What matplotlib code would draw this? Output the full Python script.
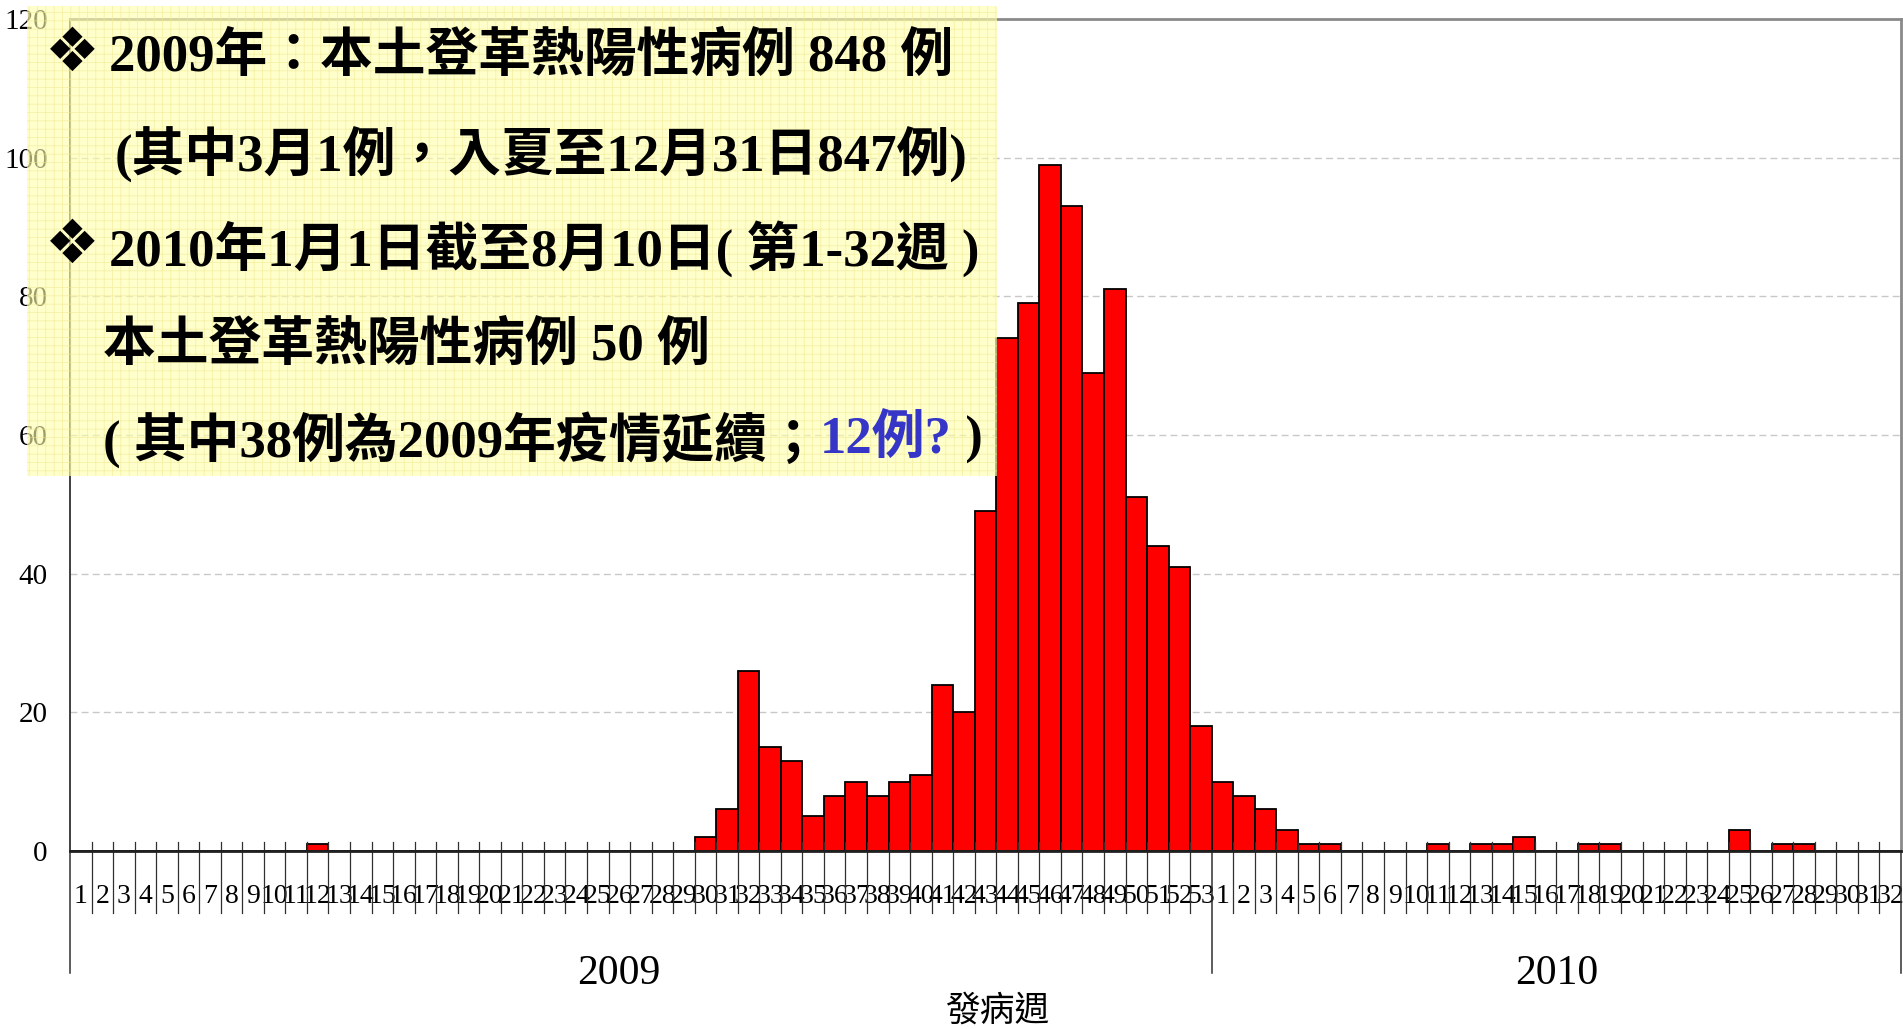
import matplotlib
matplotlib.use("Agg")
import matplotlib.pyplot as plt
from matplotlib.patches import Rectangle
from matplotlib.transforms import blended_transform_factory

# Weekly counts of locally acquired dengue cases by week of onset
weeks_2009 = [str(w) for w in range(1, 54)]
weeks_2010 = [str(w) for w in range(1, 33)]
cases_2009 = [0] * 11 + [1] + [0] * 17 + [
    2, 6, 26, 15, 13, 5, 8, 10, 8, 10, 11, 24, 20,
    49, 74, 79, 99, 93, 69, 81, 51, 44, 41, 18]
cases_2010 = [10, 8, 6, 3, 1, 1, 0, 0, 0, 0, 1, 0, 1, 1, 2, 0,
              0, 1, 1, 0, 0, 0, 0, 0, 3, 0, 1, 1, 0, 0, 0, 0]
year_labels = ["2009", "2010"]
y_ticks = [0, 20, 40, 60, 80, 100, 120]
x_title = "發病週"

bullet = "❖"
note_lines = [
    (True, "2009年：本土登革熱陽性病例 848 例"),
    (False, "(其中3月1例，入夏至12月31日847例)"),
    (True, "2010年1月1日截至8月10日( 第1-32週 )"),
    (False, "本土登革熱陽性病例 50 例"),
]
note_last = ["( 其中38例為2009年疫情延續；", "12例?", " )"]

W, H = 1903, 1029
fig = plt.figure(figsize=(W / 100, H / 100), dpi=100)
fig.patch.set_facecolor("white")
plt.rcParams["hatch.linewidth"] = 0.6

left_px, right_px, top_px, bottom_px = 70, 1901, 19, 851
ax = fig.add_axes([left_px / W, 1 - bottom_px / H,
                   (right_px - left_px) / W, (bottom_px - top_px) / H])

labels = weeks_2009 + weeks_2010
values = cases_2009 + cases_2010
xs = list(range(len(values)))
n09 = len(cases_2009)

ax.bar(xs, values, width=1.0, color="#FF0000", edgecolor="black",
       linewidth=1.3, zorder=3)

ax.set_xlim(-0.5, len(values) - 0.5)
ax.set_ylim(0, 120)
ax.set_yticks(y_ticks)
ax.set_yticklabels([str(v) for v in y_ticks], fontfamily="Liberation Serif",
                   fontsize=21)
ax.tick_params(axis="y", length=0, pad=16)
ax.set_xticks(xs)
ax.set_xticklabels(labels, fontfamily="Liberation Serif", fontsize=20)
ax.tick_params(axis="x", length=0, pad=24)

for v in y_ticks[1:-1]:
    ax.axhline(v, color="#C8C8C8", lw=1.0, ls=(0, (5, 3)), zorder=1)

for side in ("top", "right"):
    ax.spines[side].set_color("#8A8A8A")
    ax.spines[side].set_linewidth(2.0)
ax.spines["left"].set_color("#303030")
ax.spines["left"].set_linewidth(1.3)
ax.spines["bottom"].set_color("#202020")
ax.spines["bottom"].set_linewidth(2.0)
ax.spines["bottom"].set_zorder(4)

# category separators below the axis
trans = blended_transform_factory(ax.transData, ax.transAxes)
ax_h = bottom_px - top_px
for k in range(len(values) - 1):
    b = k + 0.5
    if b == n09 - 0.5:
        continue
    ax.plot([b, b], [9 / ax_h, -62 / ax_h], color="#303030", lw=0.9,
            transform=trans, clip_on=False, zorder=4)
for b in (-0.5, n09 - 0.5, len(values) - 0.5):
    ax.plot([b, b], [0, -122 / ax_h], color="#303030", lw=1.1,
            transform=trans, clip_on=False, zorder=4)

# year group labels
ax.text(25, -123 / ax_h, year_labels[0], transform=trans, ha="center",
        va="center", fontfamily="Liberation Serif", fontsize=30)
ax.text(n09 + (len(cases_2010) - 1) / 2, -123 / ax_h, year_labels[1],
        transform=trans, ha="center", va="center",
        fontfamily="Liberation Serif", fontsize=30)

fig.text(997 / W, 1 - 1011 / H, x_title, ha="center", va="center",
         fontfamily="Noto Sans CJK TC", fontsize=25)

# highlighted note box
bx0, by0, bx1, by1 = 27, 6, 997, 476
box = Rectangle((bx0 / W, 1 - by1 / H), (bx1 - bx0) / W, (by1 - by0) / H,
                transform=fig.transFigure, facecolor="#FFFFAC",
                edgecolor="#F0E890", linewidth=0, hatch="++", alpha=0.62,
                zorder=5)
fig.add_artist(box)

fam = ["Liberation Serif", "Noto Sans CJK TC", "DejaVu Sans"]
fs = 38
line_pos = [(109, 57), (115, 155), (109, 249), (103, 346), (103, 440)]
for (lx, ly), (has_bullet, txt) in zip(line_pos[:4], note_lines):
    if has_bullet:
        fig.text(72 / W, 1 - (ly - 3) / H, bullet, ha="center", va="center",
                 fontfamily="DejaVu Sans", fontsize=44, zorder=6)
    fig.text(lx / W, 1 - ly / H, txt, ha="left", va="center",
             fontfamily=fam, fontweight="bold", fontsize=fs, zorder=6)

renderer = fig.canvas.get_renderer()
lx, ly = line_pos[4]
cur_x = lx
for txt, col in zip(note_last, ["black", "#3535C8", "black"]):
    t = fig.text(cur_x / W, 1 - ly / H, txt, ha="left", va="center",
                 fontfamily=fam, fontweight="bold", fontsize=fs, color=col,
                 zorder=6)
    bb = t.get_window_extent(renderer)
    cur_x = bb.x1

fig.savefig("out.png", dpi=100)
